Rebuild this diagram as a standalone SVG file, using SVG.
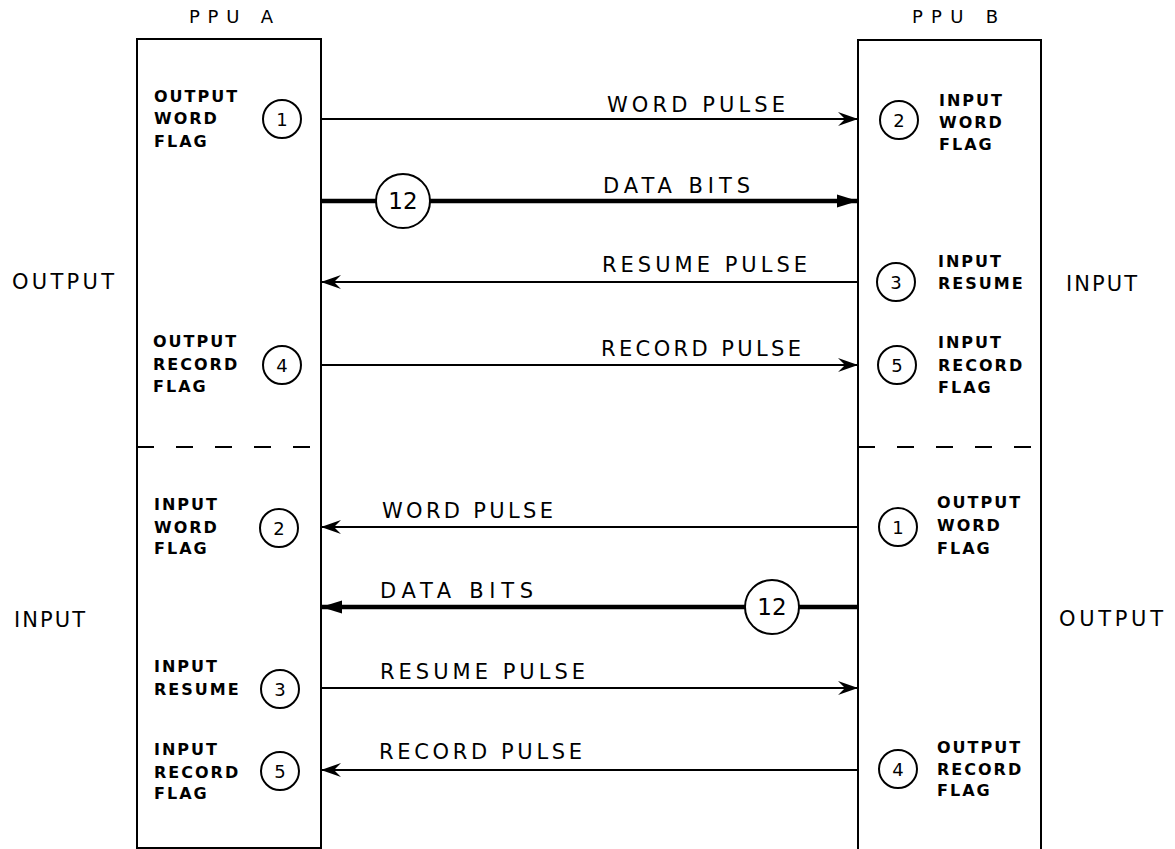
<svg xmlns="http://www.w3.org/2000/svg" width="1175" height="849" viewBox="0 0 1175 849">
<style>
text{font-family:"DejaVu Sans","Liberation Sans",Arial,sans-serif;fill:#000}
.lbl{font-size:16px;font-weight:bold;letter-spacing:2px}
.sig{font-size:21px}
.side{font-size:21px}
.ttl{font-size:18px}
.num{font-size:18px;text-anchor:middle}
.big{font-size:23px;text-anchor:middle}
.box{fill:none;stroke:#000;stroke-width:2}
.dash{fill:none;stroke:#000;stroke-width:2;stroke-dasharray:17 22}
.c{fill:#fff;stroke:#000;stroke-width:2}
.w{fill:none;stroke:#000;stroke-width:2;marker-end:url(#ah)}
.d{fill:none;stroke:#000;stroke-width:4.5;marker-end:url(#fh)}
</style>
<defs>
<marker id="ah" markerUnits="userSpaceOnUse" markerWidth="24" markerHeight="18" viewBox="-22 -9 24 18" refX="0" refY="0" orient="auto">
<path d="M0,0 L-20,-7 L-13,0 L-20,7 Z" fill="#000"/>
</marker>
<marker id="fh" markerUnits="userSpaceOnUse" markerWidth="24" markerHeight="18" viewBox="-22 -9 24 18" refX="0" refY="0" orient="auto">
<path d="M0,0 L-21,-6.5 L-21,6.5 Z" fill="#000"/>
</marker>
</defs>
<rect width="1175" height="849" fill="#fff"/>

<g id="side-labels">
<text class="side" x="12" y="289" textLength="102" lengthAdjust="spacing">OUTPUT</text>
<text class="side" x="1066" y="291" textLength="71" lengthAdjust="spacing">INPUT</text>
<text class="side" x="14" y="627" textLength="71" lengthAdjust="spacing">INPUT</text>
<text class="side" x="1059" y="626" textLength="104" lengthAdjust="spacing">OUTPUT</text>
</g>

<g id="ppu-a">
<text class="ttl" x="189" y="23" textLength="84" lengthAdjust="spacing">PPU A</text>
<path class="box" d="M137,39 H321 V848 H137 Z"/>
<path class="dash" d="M137,447 H321"/>
</g>

<g id="ppu-b">
<text class="ttl" x="912" y="23" textLength="86" lengthAdjust="spacing">PPU B</text>
<path class="box" d="M858,849 V40 H1041 V849"/>
<path class="dash" d="M858,447 H1041"/>
</g>

<g id="connectors">
<path class="w" d="M321,119 H858"/>
<path class="d" d="M321,201 H858"/>
<path class="w" d="M858,282 H321"/>
<path class="w" d="M321,365 H858"/>
<path class="w" d="M858,527 H321"/>
<path class="d" d="M858,607 H321"/>
<path class="w" d="M321,688 H858"/>
<path class="w" d="M858,770 H321"/>
<text class="sig" x="607" y="112" textLength="178" lengthAdjust="spacing">WORD PULSE</text>
<text class="sig" x="603" y="193" textLength="147" lengthAdjust="spacing">DATA BITS</text>
<text class="sig" x="602" y="272" textLength="205" lengthAdjust="spacing">RESUME PULSE</text>
<text class="sig" x="601" y="356" textLength="200" lengthAdjust="spacing">RECORD PULSE</text>
<text class="sig" x="382" y="518" textLength="171" lengthAdjust="spacing">WORD PULSE</text>
<text class="sig" x="380" y="598" textLength="153" lengthAdjust="spacing">DATA BITS</text>
<text class="sig" x="380" y="679" textLength="205" lengthAdjust="spacing">RESUME PULSE</text>
<text class="sig" x="379" y="759" textLength="203" lengthAdjust="spacing">RECORD PULSE</text>
</g>

<g id="bus-a">
<circle class="c" cx="403" cy="201" r="27"/>
<text class="big" x="403" y="209">12</text>
</g>
<g id="bus-b">
<circle class="c" cx="772" cy="607" r="27"/>
<text class="big" x="772" y="615">12</text>
</g>

<g id="a-output-word-flag">
<circle class="c" cx="282" cy="119" r="19"/>
<text class="num" x="282" y="126">1</text>
<text class="lbl" x="154" y="102">OUTPUT</text>
<text class="lbl" x="154" y="124">WORD</text>
<text class="lbl" x="154" y="147">FLAG</text>
</g>
<g id="b-input-word-flag">
<circle class="c" cx="899" cy="120" r="19"/>
<text class="num" x="899" y="127">2</text>
<text class="lbl" x="939" y="106">INPUT</text>
<text class="lbl" x="939" y="128">WORD</text>
<text class="lbl" x="939" y="150">FLAG</text>
</g>
<g id="b-input-resume">
<circle class="c" cx="896" cy="282" r="19"/>
<text class="num" x="896" y="289">3</text>
<text class="lbl" x="938" y="267">INPUT</text>
<text class="lbl" x="938" y="289">RESUME</text>
</g>
<g id="a-output-record-flag">
<circle class="c" cx="282" cy="365" r="19"/>
<text class="num" x="282" y="372">4</text>
<text class="lbl" x="153" y="347">OUTPUT</text>
<text class="lbl" x="153" y="370">RECORD</text>
<text class="lbl" x="153" y="392">FLAG</text>
</g>
<g id="b-input-record-flag">
<circle class="c" cx="897" cy="365" r="19"/>
<text class="num" x="897" y="372">5</text>
<text class="lbl" x="938" y="348">INPUT</text>
<text class="lbl" x="938" y="371">RECORD</text>
<text class="lbl" x="938" y="393">FLAG</text>
</g>
<g id="a-input-word-flag">
<circle class="c" cx="279" cy="528" r="19"/>
<text class="num" x="279" y="535">2</text>
<text class="lbl" x="154" y="510">INPUT</text>
<text class="lbl" x="154" y="533">WORD</text>
<text class="lbl" x="154" y="554">FLAG</text>
</g>
<g id="b-output-word-flag">
<circle class="c" cx="898" cy="527" r="19"/>
<text class="num" x="898" y="534">1</text>
<text class="lbl" x="937" y="508">OUTPUT</text>
<text class="lbl" x="937" y="531">WORD</text>
<text class="lbl" x="937" y="554">FLAG</text>
</g>
<g id="a-input-resume">
<circle class="c" cx="280" cy="689" r="19"/>
<text class="num" x="280" y="696">3</text>
<text class="lbl" x="154" y="672">INPUT</text>
<text class="lbl" x="154" y="695">RESUME</text>
</g>
<g id="a-input-record-flag">
<circle class="c" cx="280" cy="771" r="19"/>
<text class="num" x="280" y="778">5</text>
<text class="lbl" x="154" y="755">INPUT</text>
<text class="lbl" x="154" y="778">RECORD</text>
<text class="lbl" x="154" y="799">FLAG</text>
</g>
<g id="b-output-record-flag">
<circle class="c" cx="898" cy="769" r="19"/>
<text class="num" x="898" y="776">4</text>
<text class="lbl" x="937" y="753">OUTPUT</text>
<text class="lbl" x="937" y="775">RECORD</text>
<text class="lbl" x="937" y="796">FLAG</text>
</g>
</svg>
